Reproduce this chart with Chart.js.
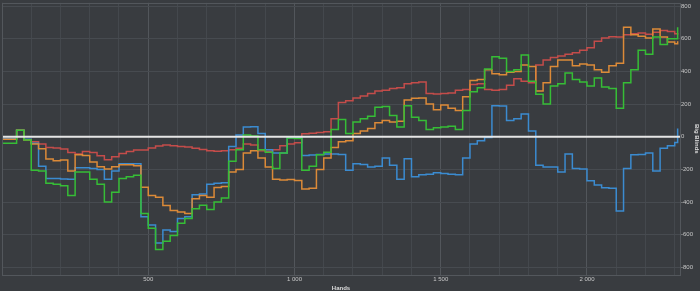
<!DOCTYPE html>
<html><head><meta charset="utf-8">
<script src="https://cdn.jsdelivr.net/npm/chart.js@4.4.1/dist/chart.umd.min.js"></script>
<style>
html,body{margin:0;padding:0;background:#393c40;}
#wrap{width:700px;height:291px;position:relative;}
</style></head><body>
<div id="wrap"><canvas id="c" width="700" height="291"></canvas></div>
<script>
const hands = [0,25,50,75,100,125,150,175,200,225,250,275,300,325,350,375,400,425,450,475,500,525,550,575,600,625,650,675,700,725,750,775,800,825,850,875,900,925,950,975,1000,1025,1050,1075,1100,1125,1150,1175,1200,1225,1250,1275,1300,1325,1350,1375,1400,1425,1450,1475,1500,1525,1550,1575,1600,1625,1650,1675,1700,1725,1750,1775,1800,1825,1850,1875,1900,1925,1950,1975,2000,2025,2050,2075,2100,2125,2150,2175,2200,2225,2250,2275,2300,2310];

const redSeries = [-12,-12,40,-18,-30,-45,-65,-69,-75,-96,-106,-90,-96,-116,-140,-122,-102,-90,-81,-81,-69,-57,-50,-55,
-60,-62,-70,-78,-85,-88,-85,-80,-70,-45,-50,-85,-88,-80,-55,-45,-37,
18,22,26,30,110,210,220,
238,250,265,280,285,295,300,325,330,335,
265,262,265,268,285,290,320,325,290,285,290,315,355,
340,330,440,470,485,495,505,515,530,545,
585,605,612,610,625,630,635,628,640,650,645,630,625];

const orangeSeries = [-15,-15,40,-20,-45,-73,-136,-147,-142,-210,-110,-115,-155,-183,-197,-183,-171,-171,-177,-309,-360,-370,-421,-452,
-460,-470,-380,-360,-370,-310,-305,-215,-200,-100,-85,-130,-185,-260,-265,-262,-268,
-320,-315,-200,-130,-65,-30,-25,
20,35,50,85,100,90,95,225,235,238,
200,165,195,175,160,245,345,350,410,385,380,395,400,
440,430,280,330,430,470,470,435,445,440,
410,395,435,450,670,625,615,605,660,610,580,570,585];

const greenSeries = [-40,-40,40,-20,-205,-210,-285,-290,-300,-360,-215,-215,-260,-290,-400,-340,-255,-245,-235,-470,-560,-690,-640,-605,
-530,-500,-440,-420,-445,-400,-375,-150,-80,10,5,-80,-95,-195,-100,-8,-10,
-205,-180,-110,-95,45,105,20,
90,110,125,180,185,130,60,190,120,100,
45,55,60,65,45,160,275,300,415,490,480,400,410,
500,340,260,200,310,325,390,350,335,310,
360,305,295,175,330,410,530,505,610,565,600,600,670];

const blueSeries = [-10,-10,40,-15,-40,-180,-255,-255,-258,-260,-190,-190,-195,-200,-260,-210,-165,-165,-165,-490,-540,-650,-570,-580,
-500,-490,-355,-350,-290,-285,-282,-60,10,60,62,20,-80,-100,-100,-6,-6,
-115,-112,-108,-105,-105,-108,-205,
-165,-170,-185,-180,-130,-175,-260,-135,-245,-232,
-230,-220,-225,-230,-232,-130,-45,-25,-5,190,188,100,110,
140,35,-175,-185,-185,-215,-105,-195,-198,-270,
-295,-312,-315,-455,-195,-110,-108,-100,-210,-70,-55,-35,50];

const zeroLine = [0, 0];
const xRange = [0, 2318];
const yRange = [-845, 820];

function pts(vals){ return vals.map((v,i)=>({x:hands[i], y:v})); }

const bgPlugin = {
  id:'bg',
  beforeDraw(chart){
    const c = chart.ctx;
    c.save(); c.fillStyle = '#393c40'; c.fillRect(0,0,chart.width,chart.height); c.restore();
  },
  afterDraw(chart){
    const a = chart.chartArea, c = chart.ctx;
    c.save(); c.strokeStyle = '#53575c'; c.lineWidth = 1;
    c.strokeRect(Math.round(a.left)+0.5, Math.round(a.top)+0.5, Math.round(a.right-a.left), Math.round(a.bottom-a.top));
    c.restore();
  }
};

const lineDs = (label, vals, color) => ({
  label, data: pts(vals), borderColor: color, borderWidth: 1.5,
  pointRadius: 0, stepped: true, fill: false, tension: 0
});

new Chart(document.getElementById('c'), {
  type: 'line',
  data: {
    datasets: [
      {label:'zero', data: xRange.map((x,i)=>({x, y: zeroLine[i]})), borderColor:'#e6e6e6', borderWidth:2, pointRadius:0},
      lineDs('Green', greenSeries, '#36bd36'),
      lineDs('Orange', orangeSeries, '#dc8a38'),
      lineDs('Blue', blueSeries, '#3b8bd0'),
      lineDs('Red', redSeries, '#c44c4a')
    ]
  },
  options: {
    responsive: false, animation: false,
    layout: { padding: { left: 2, top: 2, right: 0, bottom: 0 } },
    plugins: { legend: { display: false }, tooltip: { enabled: false } },
    scales: {
      x: {
        type: 'linear', min: xRange[0], max: xRange[1],
        ticks: {
          stepSize: 100, autoSkip: false, maxRotation: 0, includeBounds: false,
          color: '#c8c8c8', font: { family: 'Liberation Sans', size: 6 }, padding: 1,
          callback: v => (v % 500 === 0 && v > 0) ? String(v).replace(/\B(?=(\d{3})+(?!\d))/g, ' ') : ''
        },
        grid: {
          drawTicks: false,
          color: ctx => (ctx.tick && ctx.tick.value % 500 === 0) ? '#52565b' : '#44484d',
          lineWidth: 1
        },
        border: { display: false },
        title: { display: true, text: 'Hands', color: '#dcdcdc', font: { family: 'Liberation Sans', size: 6, weight: 'bold', lineHeight: 1 }, padding: { top: 1, bottom: 0 } }
      },
      y: {
        type: 'linear', position: 'right', min: yRange[0], max: yRange[1],
        ticks: {
          stepSize: 200, includeBounds: false, color: '#c8c8c8',
          font: { family: 'Liberation Sans', size: 6, lineHeight: 0.6 }, padding: 1
        },
        grid: { drawTicks: false, color: '#474b50', lineWidth: 1 },
        border: { display: false },
        title: { display: true, text: 'Big Blinds', color: '#dcdcdc', font: { family: 'Liberation Sans', size: 6, weight: 'bold', lineHeight: 1 }, padding: { top: 0, bottom: 0 } }
      }
    }
  },
  plugins: [bgPlugin]
});
</script>
</body></html>
